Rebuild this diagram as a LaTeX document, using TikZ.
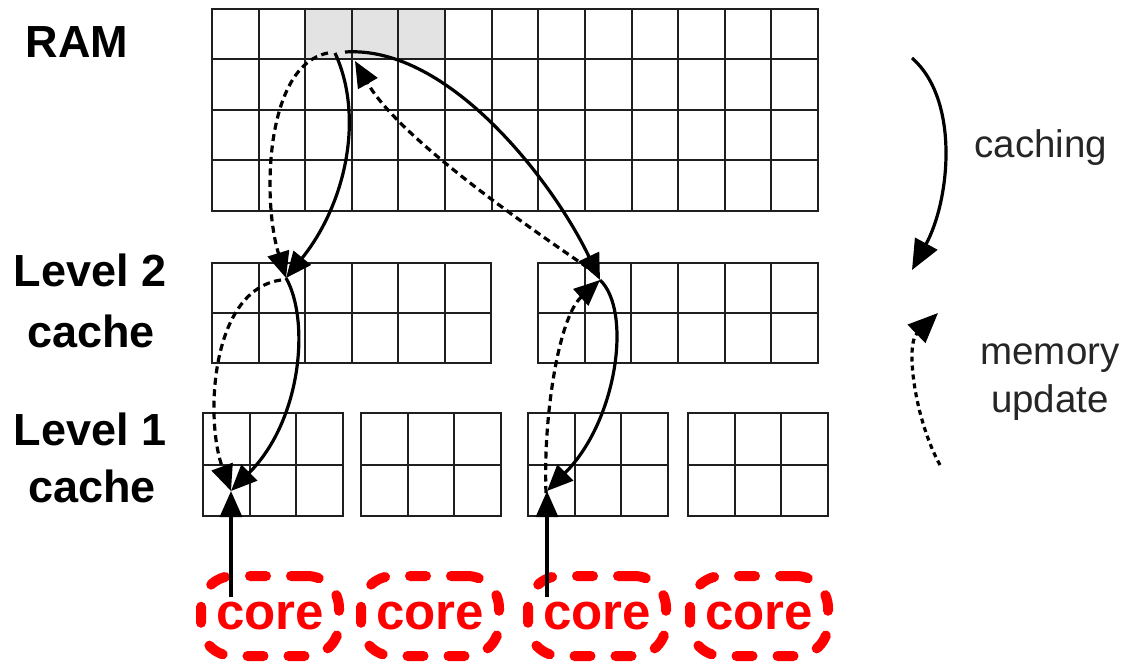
\documentclass[tikz,border=0pt]{standalone}
\usepackage{fontspec}
\setmainfont{Liberation Sans}
\usetikzlibrary{arrows.meta}
\newcommand{\memgrid}[6]{%
  \foreach \i in {0,...,#3} \draw[gridline] ({#1+\i*#5},#2) -- ({#1+\i*#5},{#2+#4*#6});
  \foreach \j in {0,...,#4} \draw[gridline] (#1,{#2+\j*#6}) -- ({#1+#3*#5},{#2+\j*#6});
}
\begin{document}
\begin{tikzpicture}[x=1pt,y=-1pt,
  gridline/.style={line width=2pt, draw=black!88, line cap=rect},
  flow/.style={line width=3.2pt, -{Triangle[length=26pt,width=22pt]}},
  wb/.style={flow, dash pattern=on 7pt off 4.5pt},
  legflow/.style={line width=3.2pt, -{Triangle[length=30pt,width=25pt]}},
  legwb/.style={legflow, dash pattern=on 5pt off 4pt},
  corebox/.style={draw=red, line width=10pt, line cap=round, dash pattern=on 16pt off 25pt,
    rounded corners=32pt, minimum width=138pt, minimum height=80pt, text=red,
    font=\fontsize{51}{60}\selectfont\bfseries, inner sep=0pt},
  lvl/.style={font=\fontsize{45}{54}\selectfont\bfseries, anchor=base, inner sep=0pt},
  leg/.style={font=\fontsize{38.5}{44}\selectfont, text=black!85, anchor=base, inner sep=0pt}
]
\useasboundingbox (0,0) rectangle (1124,668);
\fill[white] (0,0) rectangle (1124,668);

% RAM
\fill[black!11] (305.2,9) rectangle (445.1,59.5);
\memgrid{212}{9}{13}{4}{46.615}{50.5}
% Level 2
\memgrid{212}{263}{6}{2}{46.5}{50}
\memgrid{538}{263}{6}{2}{46.67}{50}
% Level 1
\memgrid{203}{413}{3}{2}{46.67}{51.5}
\memgrid{361}{413}{3}{2}{46.67}{51.5}
\memgrid{528}{413}{3}{2}{46.67}{51.5}
\memgrid{688}{413}{3}{2}{46.67}{51.5}

% labels
\node[lvl] (ram) at (77,58) {RAM};
\node[lvl] (l2t) at (90,287) {Level 2};
\node[lvl] (l2c) at (91,347) {cache};
\node[lvl] (l1t) at (90,445) {Level 1};
\node[lvl] (l1c) at (92,502) {cache};

% cores
\node[corebox] (c1) at (270,616) {core};
\node[corebox] (c2) at (430,616) {core};
\node[corebox] (c3) at (597,616) {core};
\node[corebox] (c4) at (759,616) {core};

% connection points
\coordinate (ra) at (328,53);
\coordinate (rb) at (335,53);
\coordinate (rc) at (345,52);
\coordinate (rd) at (355,61);
\coordinate (pa) at (286,278);
\coordinate (pb) at (600,280);
\coordinate (qa) at (231,491);
\coordinate (qb) at (547,491);
\coordinate (sa) at (231,597);
\coordinate (sb) at (547,597);

% caching (solid)
\draw[flow] (rb) .. controls (365,118) and (345,205) .. (pa);
\draw[flow] (rc) .. controls (450,45) and (555,185) .. (pb);
\draw[flow] (pa) .. controls (310,320) and (302,420) .. (qa);
\draw[flow] (pb) .. controls (632,310) and (618,420) .. (qb);
\draw[flow] (sa) -- (qa);
\draw[flow] (sb) -- (qb);

% memory update (dashed)
\draw[wb] (ra) .. controls (265,65) and (262,200) .. (pa);
\draw[wb] (281,280) .. controls (210,290) and (205,420) .. (qa);
\draw[wb] (546,493) .. controls (543,420) and (558,318) .. (pb);
\draw[wb] (597,274) .. controls (540,235) and (400,140) .. (rd);

% legend
\coordinate (ka) at (912,58);
\coordinate (kb) at (912,270);
\coordinate (ma) at (940,465);
\coordinate (mb) at (938,313);
\draw[legflow] (ka) .. controls (960,100) and (950,200) .. (kb);
\draw[legwb] (ma) .. controls (915,420) and (905,345) .. (mb);
\node[leg] (cach) at (1041,158) {caching};
\node[leg] (mem) at (1050,364) {memory};
\node[leg] (upd) at (1050,412) {update};
\end{tikzpicture}
\end{document}
